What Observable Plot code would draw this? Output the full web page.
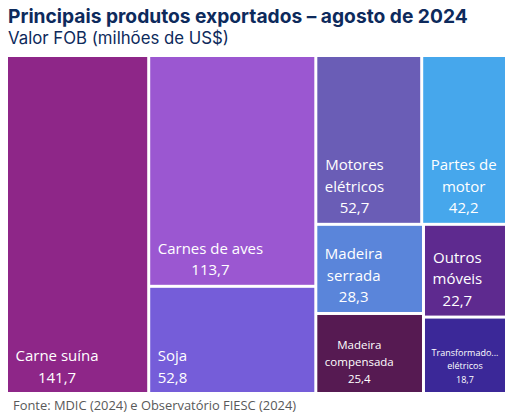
<!DOCTYPE html>
<html>
<head>
<meta charset="utf-8">
<script src="https://cdn.jsdelivr.net/npm/d3@7"></script>
<script src="https://cdn.jsdelivr.net/npm/@observablehq/plot@0.6"></script>
<style>
  body { margin: 0; background: #ffffff; }
  #wrap { position: relative; width: 513px; height: 415px; overflow: hidden; }
  #title { position: absolute; left: 8px; top: 7px; font: 700 19.2px Inter, sans-serif; line-height: 1; color: #0d2a5c; white-space: nowrap; }
  #sub { position: absolute; left: 8px; top: 30px; font: 400 16.8px Inter, sans-serif; line-height: 1; color: #0d2a5c; white-space: nowrap; }
  #chart { position: absolute; left: 0; top: 57px; }
  #fonte { position: absolute; left: 13px; top: 399px; font: 400 12.9px "Open Sans", sans-serif; line-height: 1; color: #595959; white-space: nowrap; }
</style>
</head>
<body>
<div id="wrap">
  <div id="title">Principais produtos exportados – agosto de 2024</div>
  <div id="sub">Valor FOB (milhões de US$)</div>
  <div id="chart"></div>
  <div id="fonte">Fonte: MDIC (2024) e Observatório FIESC (2024)</div>
</div>
<script>
// ---- Data ----
const produtos = ["Carne suína", "Carnes de aves", "Soja", "Motores elétricos", "Partes de motor",
                  "Madeira serrada", "Madeira compensada", "Outros móveis", "Transformadores elétricos"];
const valores = [141.7, 113.7, 52.8, 52.7, 42.2, 28.3, 25.4, 22.7, 18.7];
const cores = ["#8e2688", "#9b57d1", "#755dd9", "#6a5db6", "#46a7ec",
               "#5a85da", "#561a52", "#5e2a8f", "#3b2898"];
// How the treemap partitions the space (indices into the arrays above):
// "dice" = side by side, "slice" = stacked
const particao = ["dice", 0, ["slice", 1, 2],
  ["slice", ["dice", 3, 4], ["dice", ["slice", 5, 6], ["slice", 7, 8]]]];

// ---- Layout ----
const W = 497, H = 335;
function build(spec) {
  if (typeof spec === "number") return {i: spec, value: valores[spec]};
  return {tile: spec[0], children: spec.slice(1).map(build)};
}
const root = d3.hierarchy(build(particao), d => d.children).sum(d => d.value ?? 0);
d3.treemap()
  .size([W, H])
  .paddingInner(3)
  .tile((node, x0, y0, x1, y1) =>
    (node.data.tile === "dice" ? d3.treemapDice : d3.treemapSlice)(node, x0, y0, x1, y1))(root);

const leaves = root.leaves().map(n => ({
  i: n.data.i, produto: produtos[n.data.i], valor: valores[n.data.i], cor: cores[n.data.i],
  x0: n.x0, x1: n.x1, y0: n.y0, y1: n.y1
}));

// ---- Labels (wrapped, auto-sized) ----
const FONT = '"Open Sans", sans-serif';
const ctx = document.createElement("canvas").getContext("2d");
function tw(s, fs) { ctx.font = `${fs}px ${FONT}`; return ctx.measureText(s).width; }
const PAD = 7, BOTTOM = 10;
const fmt = v => v.toFixed(1).replace(".", ",");

const labels = leaves.map(d => {
  const w = d.x1 - d.x0, h = d.y1 - d.y0;
  let avail = w - 2 * PAD;
  const words = d.produto.split(" ");
  let fs = h >= 80 ? 15 : 11.5;
  if (words.some(wd => tw(wd, fs) > avail)) { fs = 9; avail = w - 10; }
  const lines = [];
  let cur = "";
  for (const wd of words) {
    const t = cur ? cur + " " + wd : wd;
    if (!cur || tw(t, fs) <= avail) cur = t;
    else { lines.push(cur); cur = wd; }
  }
  lines.push(cur);
  const clipped = lines.map(l => {
    if (tw(l, fs) <= avail) return l;
    let s = l;
    while (s.length > 1 && tw(s + "...", fs) > avail) s = s.slice(0, -1);
    return s + "...";
  });
  clipped.push(fmt(d.valor));
  const blockW = d3.max(clipped, l => tw(l, fs));
  const left = fs === 9 ? d.x0 + 6 : d.x0 + PAD;
  return {
    text: clipped.join("\n"),
    fs,
    x: left + blockW / 2,
    y: d.y1 - BOTTOM
  };
});

const chart = Plot.plot({
  width: 513,
  height: H,
  marginTop: 0, marginRight: 0, marginBottom: 0, marginLeft: 0,
  x: {domain: [0, W], range: [8, 8 + W], axis: null},
  y: {domain: [0, H], range: [0, H], axis: null},
  style: {background: "transparent", overflow: "visible"},
  marks: [
    Plot.rect(leaves, {x1: "x0", x2: "x1", y1: "y0", y2: "y1", fill: d => d.cor}),
    Plot.text(labels, {
      x: "x", y: "y", text: "text",
      fontSize: d => d.fs,
      fill: "white",
      textAnchor: "middle",
      lineAnchor: "bottom",
      lineHeight: 1.45,
      fontFamily: FONT
    })
  ]
});
document.getElementById("chart").appendChild(chart);
</script>
</body>
</html>
